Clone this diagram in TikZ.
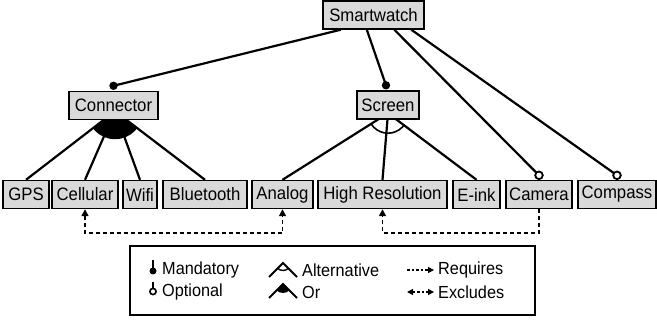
\documentclass[tikz,border=0pt]{standalone}
\usepackage{fontspec}
\setmainfont{Liberation Sans}[FakeStretch=0.93]
\usetikzlibrary{arrows.meta,backgrounds,calc}
\definecolor{featgray}{RGB}{217,217,217}
\tikzset{
  feature/.style={draw=black, line width=1.4pt, fill=featgray, inner sep=0pt,
    minimum height=28pt, font=\fontsize{18}{21}\selectfont},
  edge/.style={line width=2.2pt, black},
  depline/.style={line width=1.6pt, dash pattern=on 4pt off 3pt},
  tip/.style={-{Triangle[length=7pt,width=7pt]}},
  twotip/.style={{Triangle[length=7pt,width=7pt]}-{Triangle[length=7pt,width=7pt]}},
  legtext/.style={anchor=west, inner sep=0pt, font=\fontsize{17.5}{20}\selectfont},
}
\begin{document}
\begin{tikzpicture}[x=1pt,y=-1pt]
\useasboundingbox (0,0) rectangle (657,323);

% features
\node[feature, minimum width=101pt] (sw) at (373.5,15) {Smartwatch};
\node[feature, minimum width=89pt] (con) at (113.5,105.5) {Connector};
\node[feature, minimum width=62pt] (scr) at (388,105) {Screen};
\node[feature, minimum width=46pt] (gps) at (26,194.5) {GPS};
\node[feature, minimum width=66pt] (cel) at (85,194.5) {Cellular};
\node[feature, minimum width=34pt] (wifi) at (140,194.5) {Wifi};
\node[feature, minimum width=84pt] (bt) at (205,194.5) {Bluetooth};
\node[feature, minimum width=61pt] (ana) at (282.5,194.5) {Analog};
\node[feature, minimum width=129pt] (hr) at (382.5,194.5) {High Resolution};
\node[feature, minimum width=47pt] (eink) at (476.5,194.5) {E-ink};
\node[feature, minimum width=66pt] (cam) at (539,194.5) {Camera};
\node[feature, minimum width=78pt] (cmp) at (617,194.5) {Compass};

% group roots, hidden behind the parent boxes
\coordinate (conc) at ($(con.south)+(1.5,-9)$);
\coordinate (scrc) at ($(scr.south)+(0,-6.5)$);
% end points of the edges leaving Smartwatch
\coordinate (sw1) at ($(sw.south west)+(18.5,0)$);
\coordinate (sw2) at ($(sw.south west)+(44.5,0)$);
\coordinate (sw3) at ($(sw.south west)+(72,0)$);
\coordinate (sw4) at ($(sw.south west)+(89,0)$);
\coordinate (conm) at ($(con.north)+(0,-5)$);
\coordinate (scrm) at ($(scr.north)+(-2,-5)$);
\coordinate (camo) at ($(cam.north)+(0,-4.5)$);
\coordinate (cmpo) at ($(cmp.north)+(0,-4.5)$);
\coordinate (dl) at (0,233);

\begin{scope}[on background layer]
  % Or group
  \begin{scope}
    \clip (conc) circle (28pt);
    \fill (conc) -- (gps.north) -- (bt.north) -- cycle;
  \end{scope}
  \foreach \c in {gps,cel,wifi,bt} \draw[edge] (conc) -- (\c.north);
  % Alternative group
  \begin{scope}
    \clip (scrc) -- (ana.north) -- (eink.north) -- cycle;
    \draw[line width=1.6pt] (scrc) circle (20pt);
  \end{scope}
  \foreach \c in {ana,hr,eink} \draw[edge] (scrc) -- (\c.north);
  % Smartwatch children
  \draw[edge] (sw1) -- (conm);
  \draw[edge] (sw2) -- (scrm);
  \draw[edge] (sw3) -- (camo);
  \draw[edge] (sw4) -- (cmpo);
\end{scope}
\fill (conm) circle (4.2pt);
\fill (scrm) circle (4.2pt);
\draw[line width=1.8pt, fill=white] (camo) circle (3.8pt);
\draw[line width=1.8pt, fill=white] (cmpo) circle (3.8pt);

% cross-tree constraints
\draw[depline, twotip] (cel.south) |- (dl -| cel.south) -| (ana.south);
\draw[depline, tip] (cam.south) |- (dl -| cam.south) -| (hr.south);

% legend
\node[draw, line width=1.4pt, minimum width=405pt, minimum height=69pt, inner sep=0pt] (legend) at (332.5,280.5) {};
\coordinate (m1) at (153,260);
\coordinate (m2) at (153,271);
\draw[line width=1.8pt] (m1) -- (m2);
\fill (m2) circle (3.5pt);
\coordinate (o1) at (153,282);
\coordinate (o2) at (153,291.5);
\draw[line width=1.8pt] (o1) -- ($(o2)+(0,-3)$);
\draw[line width=1.6pt] (o2) circle (3.1pt);
\node[legtext] (lm) at (162,270) {Mandatory};
\node[legtext] (lo) at (162,291.5) {Optional};

\coordinate (a0) at (269,277);
\coordinate (a1) at (283,263);
\coordinate (a2) at (297,277);
\begin{scope}
  \clip (a1) -- (a0) -- (a2) -- cycle;
  \draw[line width=1.4pt] (a1) circle (7.5pt);
\end{scope}
\draw[line width=1.8pt, line join=miter] (a0) -- (a1) -- (a2);
\coordinate (b0) at (269,298);
\coordinate (b1) at (283,284);
\coordinate (b2) at (297,298);
\begin{scope}
  \clip (b1) circle (9pt);
  \fill (b1) -- (b0) -- (b2) -- cycle;
\end{scope}
\draw[line width=1.8pt, line join=miter] (b0) -- (b1) -- (b2);
\node[legtext] (la) at (302,270) {Alternative};
\node[legtext] (lor) at (302,292.5) {Or};

\coordinate (r0) at (407,270);
\coordinate (r1) at (434,270);
\draw[line width=1.2pt, dash pattern=on 2.5pt off 2pt, -{Triangle[length=6pt,width=6pt]}] (r0) -- (r1);
\coordinate (e0) at (407,292);
\coordinate (e1) at (434,292);
\draw[line width=1.2pt, dash pattern=on 2.5pt off 2pt, {Triangle[length=6pt,width=6pt]}-{Triangle[length=6pt,width=6pt]}] (e0) -- (e1);
\node[legtext] (lr) at (438,270) {Requires};
\node[legtext] (le) at (438,292) {Excludes};
\end{tikzpicture}
\end{document}
